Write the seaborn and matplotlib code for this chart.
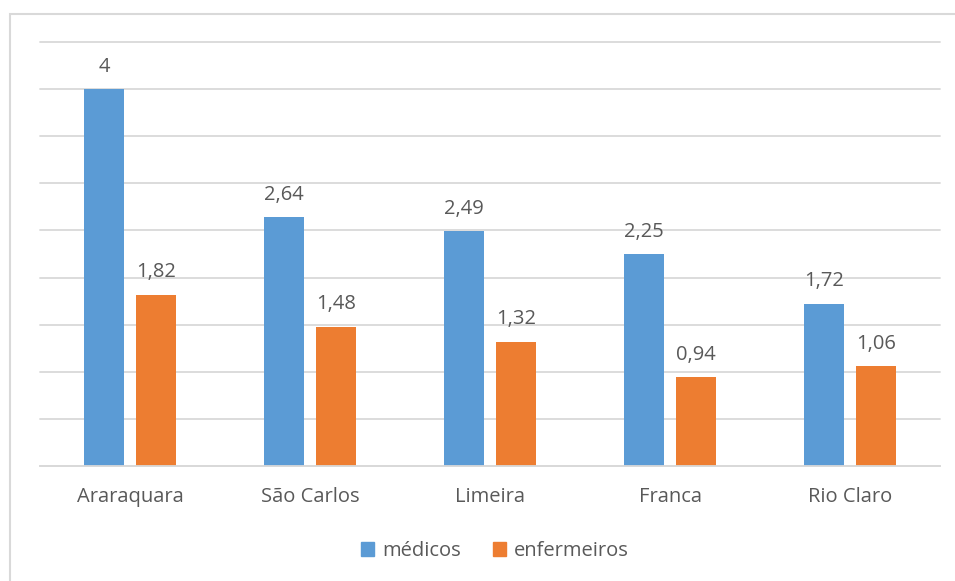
import pandas as pd
import matplotlib
matplotlib.use("Agg")
import matplotlib.pyplot as plt
import seaborn as sns
from matplotlib.patches import Rectangle, Patch

cidades = ["Araraquara", "São Carlos", "Limeira", "Franca", "Rio Claro"]
medicos = [4, 2.64, 2.49, 2.25, 1.72]
enfermeiros = [1.82, 1.48, 1.32, 0.94, 1.06]
series = ["médicos", "enfermeiros"]
cores = ["#5B9BD5", "#ED7D31"]

df = pd.DataFrame({"cidade": cidades, "médicos": medicos, "enfermeiros": enfermeiros})
dados = df.melt(id_vars="cidade", var_name="tipo", value_name="valor")

sns.set_style("white")
plt.rcParams["font.family"] = ["Open Sans", "DejaVu Sans"]
cinza = "#595959"
fs = 14.5

fig = plt.figure(figsize=(9.55, 5.81), dpi=100)
ax = fig.add_axes([40/955, 1 - 466/581, 900/955, (466 - 42)/581])

sns.barplot(data=dados, x="cidade", y="valor", hue="tipo", hue_order=series,
            palette=cores, width=0.578, gap=0.23, saturation=1, linewidth=0,
            ax=ax, legend=False)

for cont in ax.containers:
    ax.bar_label(cont, labels=[f"{v:g}".replace(".", ",") for v in cont.datavalues],
                 padding=9, fontsize=fs, color=cinza)

ax.set_ylim(0, 4.5)
ax.set_yticks([i * 0.5 for i in range(10)])
ax.set_yticklabels([])
ax.yaxis.grid(True, color="#d9d9d9", lw=1.3)
for gl in ax.get_ygridlines():
    gl.set_clip_on(False)
ax.set_axisbelow(True)
ax.tick_params(axis="both", length=0)
ax.tick_params(axis="x", pad=15, labelsize=fs, labelcolor=cinza)
ax.set_xlabel("")
ax.set_ylabel("")
for s in ["top", "right", "left"]:
    ax.spines[s].set_visible(False)
ax.spines["bottom"].set_color("#d9d9d9")
ax.spines["bottom"].set_linewidth(1.3)

handles = [Patch(color=c, label=l) for c, l in zip(cores, series)]
fig.legend(handles=handles, loc="center", bbox_to_anchor=(495/955, 1 - 551/581),
           ncol=2, frameon=False, fontsize=fs, labelcolor=cinza,
           handlelength=0.65, handleheight=0.65, handletextpad=0.4, columnspacing=1.6)

fig.patches.append(Rectangle((10/955, -0.1), 2, 1.1 - 14/581, transform=fig.transFigure,
                             fill=False, edgecolor="#d9d9d9", lw=1.5))

fig.savefig("out.png", dpi=100)
